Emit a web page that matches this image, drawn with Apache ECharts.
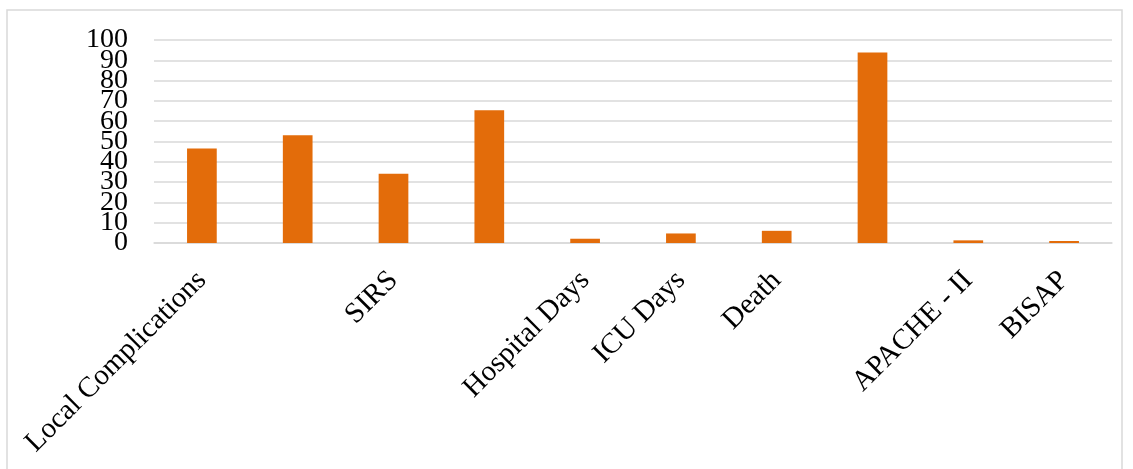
<!DOCTYPE html>
<html>
<head>
<meta charset="utf-8">
<script src="https://cdn.jsdelivr.net/npm/echarts@6/dist/echarts.min.js"></script>
<style>
  html, body { margin: 0; padding: 0; background: #fff; }
  #chart { width: 1133px; height: 469px; }
</style>
</head>
<body>
<div id="chart"></div>
<script>
// categories (some labels are blank in the source figure)
const categories = ['Local Complications', '', 'SIRS', '', 'Hospital Days', 'ICU Days', 'Death', '', 'APACHE - II', 'BISAP']
const values = [46.5, 53.1, 34.1, 65.4, 2.1, 4.7, 6.0, 93.8, 1.3, 1.0]
const yTicks = [0, 10, 20, 30, 40, 50, 60, 70, 80, 90, 100]

const yMin = yTicks[0]
const yMax = yTicks[yTicks.length - 1]
const labelStyle = {
  margin: 26,
  color: '#000',
  fontSize: 28,
  fontFamily: 'Liberation Serif'
}

const chart = echarts.init(document.getElementById('chart'))
const option = {
  animation: false,
  textStyle: { fontFamily: 'Liberation Serif' },
  graphic: [{
    type: 'rect',
    shape: { x: 7, y: 10, width: 1115, height: 470 },
    style: { fill: 'none', stroke: '#d9d9d9', lineWidth: 1.5 }
  }],
  grid: { left: 154, right: 21, top: 40, bottom: 226, containLabel: false },
  xAxis: {
    type: 'category',
    data: categories,
    axisLine: { lineStyle: { color: '#d9d9d9', width: 1.5 } },
    axisTick: { show: false },
    axisLabel: {
      interval: 0,
      rotate: 45,
      margin: 33,
      color: '#000',
      fontSize: 29,
      fontFamily: 'Liberation Serif'
    }
  },
  yAxis: [
    {
      // inner ticks 10..90 + grid lines
      type: 'value',
      position: 'left',
      min: yMin,
      max: yMax,
      interval: 10,
      axisLine: { show: false },
      axisTick: { show: false },
      splitLine: { lineStyle: { color: '#d9d9d9', width: 1.5 } },
      axisLabel: Object.assign({ showMinLabel: false, showMaxLabel: false }, labelStyle)
    },
    {
      // the end labels 0 and 100 (they overlap neighbours, so drawn on their own axis)
      type: 'value',
      position: 'left',
      min: yMin,
      max: yMax,
      interval: 10,
      axisLine: { show: false },
      axisTick: { show: false },
      splitLine: { show: false },
      axisLabel: Object.assign({
        showMinLabel: true,
        showMaxLabel: true,
        formatter: v => (v === yMin || v === yMax) ? String(v) : ''
      }, labelStyle)
    }
  ],
  series: [{
    type: 'bar',
    data: values,
    barWidth: '31%',
    itemStyle: { color: '#E36C0A' }
  }]
}
chart.setOption(option)
window.addEventListener('resize', () => { chart.resize() })
</script>
</body>
</html>
